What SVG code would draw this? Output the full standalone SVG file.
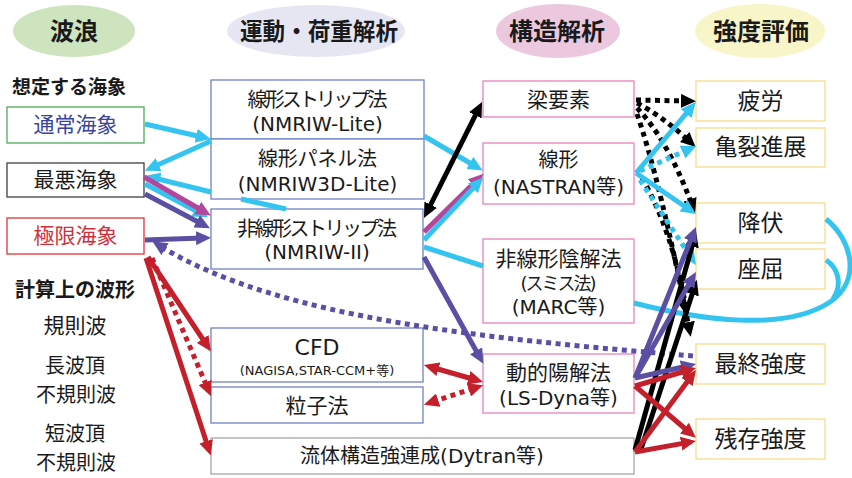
<svg xmlns="http://www.w3.org/2000/svg" width="852" height="478" viewBox="0 0 852 478">
<style>
text{font-family:"DejaVu Sans","Noto Sans CJK JP",sans-serif;fill:#1a1a1a;text-anchor:middle}
.hd{font-family:"Noto Sans CJK JP",sans-serif;font-size:24px;font-weight:bold}
.lb{font-family:"Noto Sans CJK JP",sans-serif;font-size:19px;font-weight:bold;text-anchor:start}
.lf{font-family:"Noto Sans CJK JP",sans-serif;font-size:21px}
.wv{font-family:"Noto Sans CJK JP",sans-serif;font-size:20px}
.c2{font-size:20px}
.c4{font-family:"Noto Sans CJK JP",sans-serif;font-size:23px}
.b2{fill:#fff;stroke:#6f82c8;stroke-width:1.3}
.b3{fill:#fff;stroke:#e883bd;stroke-width:1.3}
.b4{fill:#fff;stroke:#f6dc8c;stroke-width:1.3}
.cy{stroke:#35c4ef}
.pu{stroke:#5a4fa3}
.mg{stroke:#b3479c}
.rd{stroke:#c3202b}
.bk{stroke:#000}
#conn path{fill:none;stroke-width:5}
.dot{stroke-dasharray:5 4.5}
</style>
<defs>
<marker id="ac" viewBox="0 0 15 14" refX="6" refY="7" markerWidth="15" markerHeight="14" markerUnits="userSpaceOnUse" orient="auto-start-reverse"><path d="M0,0L15,7L0,14z" fill="#35c4ef"/></marker>
<marker id="ap" viewBox="0 0 15 14" refX="6" refY="7" markerWidth="15" markerHeight="14" markerUnits="userSpaceOnUse" orient="auto-start-reverse"><path d="M0,0L15,7L0,14z" fill="#5a4fa3"/></marker>
<marker id="am" viewBox="0 0 15 14" refX="6" refY="7" markerWidth="15" markerHeight="14" markerUnits="userSpaceOnUse" orient="auto-start-reverse"><path d="M0,0L15,7L0,14z" fill="#b3479c"/></marker>
<marker id="ar" viewBox="0 0 15 14" refX="6" refY="7" markerWidth="15" markerHeight="14" markerUnits="userSpaceOnUse" orient="auto-start-reverse"><path d="M0,0L15,7L0,14z" fill="#c3202b"/></marker>
<marker id="ak" viewBox="0 0 15 14" refX="6" refY="7" markerWidth="15" markerHeight="14" markerUnits="userSpaceOnUse" orient="auto-start-reverse"><path d="M0,0L15,7L0,14z" fill="#000"/></marker>
</defs>
<rect width="852" height="478" fill="#fff"/>

<g id="h-wave"><ellipse cx="74" cy="31" rx="61" ry="26" fill="#cde4bf"/><text class="hd" x="74" y="40">波浪</text></g>
<g id="h-motion"><ellipse cx="316" cy="31" rx="89" ry="26" fill="#e6e6f3"/><text class="hd" x="319" y="40" textLength="158" lengthAdjust="spacingAndGlyphs">運動・荷重解析</text></g>
<g id="h-struct"><ellipse cx="558" cy="31" rx="62" ry="27" fill="#ecc8df"/><text class="hd" x="557" y="40">構造解析</text></g>
<g id="h-strength"><ellipse cx="760" cy="31" rx="65" ry="27" fill="#f8f6c9"/><text class="hd" x="761" y="40">強度評価</text></g>

<g id="lbl-sea"><text class="lb" x="12" y="94">想定する海象</text></g>
<g id="sea-normal"><rect x="7" y="107" width="137" height="36" fill="#fff" stroke="#4cae55" stroke-width="1.3"/><text class="lf" x="75.5" y="132" style="fill:#3a44a0">通常海象</text></g>
<g id="sea-worst"><rect x="7" y="163" width="137" height="34" fill="#fff" stroke="#404040" stroke-width="1.3"/><text class="lf" x="75.5" y="187">最悪海象</text></g>
<g id="sea-extreme"><rect x="7" y="218" width="137" height="36" fill="#fff" stroke="#e0323a" stroke-width="1.3"/><text class="lf" x="75.5" y="243" style="fill:#d0303a">極限海象</text></g>
<g id="lbl-wave"><text class="lb" x="15" y="297" style="font-size:20px">計算上の波形</text></g>
<g id="wave-regular"><text class="lf" x="75" y="333">規則波</text></g>
<g id="wave-long"><text class="wv" x="75" y="372.5">長波頂</text><text class="wv" x="76" y="401.5">不規則波</text></g>
<g id="wave-short"><text class="wv" x="75" y="440.5">短波頂</text><text class="wv" x="76" y="469.5">不規則波</text></g>

<g id="m-lstrip"><rect class="b2" x="211" y="80" width="213" height="59"/><text class="c2" x="317.5" y="107" textLength="140">線形ストリップ法</text><text class="c2" x="317.5" y="131">(NMRIW-Lite)</text></g>
<g id="m-panel"><rect class="b2" x="211" y="139" width="213" height="60"/><text class="c2" x="317.5" y="166" textLength="119">線形パネル法</text><text class="c2" x="317.5" y="191">(NMRIW3D-Lite)</text></g>
<g id="m-nlstrip"><rect class="b2" x="211" y="209" width="212" height="60"/><text class="c2" x="317" y="236" textLength="160">非線形ストリップ法</text><text class="c2" x="317" y="259">(NMRIW-II)</text></g>
<g id="m-cfd"><rect class="b2" x="211" y="328" width="212" height="54"/><text x="317" y="355" style="font-size:22px">CFD</text><text x="317" y="375" style="font-size:13px">(NAGISA,STAR-CCM+等)</text></g>
<g id="m-particle"><rect class="b2" x="211" y="387" width="212" height="36"/><text class="c2" x="317" y="413" style="font-size:21px">粒子法</text></g>
<g id="m-fsi"><rect x="211" y="438" width="423" height="36" fill="#fff" stroke="#a6a6a6" stroke-width="1.3"/><text class="c2" x="422" y="463">流体構造強連成(Dytran等)</text></g>

<g id="s-beam"><rect class="b3" x="483" y="81" width="151" height="36"/><text class="c2" x="558.5" y="107" style="font-size:21px">梁要素</text></g>
<g id="s-linear"><rect class="b3" x="483" y="143" width="151" height="61"/><text class="c2" x="558.5" y="167">線形</text><text class="c2" x="558.5" y="194">(NASTRAN等)</text></g>
<g id="s-implicit"><rect class="b3" x="483" y="239" width="151" height="84"/><text class="c2" x="558.5" y="266" style="font-size:21px">非線形陰解法</text><text class="c2" x="558.5" y="290" style="font-size:18px" textLength="76">(スミス法)</text><text class="c2" x="558.5" y="314">(MARC等)</text></g>
<g id="s-explicit"><rect class="b3" x="483" y="354" width="151" height="59"/><text class="c2" x="558.5" y="380" style="font-size:21px">動的陽解法</text><text class="c2" x="558.5" y="405">(LS-Dyna等)</text></g>

<g id="e-fatigue"><rect class="b4" x="696" y="81" width="129" height="40"/><text class="c4" x="760.5" y="109">疲労</text></g>
<g id="e-crack"><rect class="b4" x="696" y="128" width="129" height="39"/><text class="c4" x="760.5" y="155">亀裂進展</text></g>
<g id="e-yield"><rect class="b4" x="696" y="203" width="129" height="40"/><text class="c4" x="760.5" y="231">降伏</text></g>
<g id="e-buckling"><rect class="b4" x="696" y="249" width="129" height="40"/><text class="c4" x="760.5" y="277">座屈</text></g>
<g id="e-ultimate"><rect class="b4" x="696" y="344" width="129" height="40"/><text class="c4" x="760.5" y="372">最終強度</text></g>
<g id="e-residual"><rect class="b4" x="696" y="419" width="129" height="40"/><text class="c4" x="760.5" y="447">残存強度</text></g>

<g id="conn">
<path class="cy" d="M145,124L202,137" marker-end="url(#ac)"/>
<path class="cy" d="M211,141L153,167" marker-end="url(#ac)"/>
<path class="cy" d="M286,209L241,199M211,192L154,178" marker-end="url(#ac)"/>
<path class="cy" d="M145,184L200,213" marker-end="url(#ac)"/>
<path class="mg" d="M144,177L203,211" stroke-width="4" marker-end="url(#am)"/>
<path class="pu" d="M145,194L202,224" marker-end="url(#ap)"/>
<path class="pu" d="M145,240L202,238" marker-end="url(#ap)"/>
<path class="pu dot" d="M693,356C500,340 280,320 160,246" stroke-width="4.5" marker-end="url(#ap)"/>
<path class="rd" d="M148,257L206,344" marker-end="url(#ar)"/>
<path class="rd dot" d="M152,258L207.5,388" marker-end="url(#ar)"/>
<path class="rd" d="M146,258L208,447" marker-end="url(#ar)"/>

<path class="cy" d="M424,136L475,166" marker-end="url(#ac)"/>
<path class="mg" d="M424,232L477,180" stroke-width="4" marker-end="url(#am)"/>
<path class="cy" d="M424,240L477,184" marker-end="url(#ac)"/>
<path class="bk" d="M428,210L478,110" marker-start="url(#ak)" marker-end="url(#ak)"/>
<path class="cy" d="M424,247L483,266M634,303C700,320 785,332 830,302C862,280 852,240 826,219"/>
<path class="cy" d="M826,260C838,268 843,284 833,299"/>
<path class="pu" d="M424,257L479,356" marker-end="url(#ap)"/>
<path class="rd" d="M432.6,367.5L474.4,379.5" marker-start="url(#ar)" marker-end="url(#ar)"/>
<path class="rd dot" d="M432.5,402L474.5,388" marker-start="url(#ar)" marker-end="url(#ar)"/>

<path class="bk dot" d="M636,100L687,101" marker-end="url(#ak)"/>
<path class="bk dot" d="M637,103Q662,116 689,141" marker-end="url(#ak)"/>
<path class="bk dot" d="M637,108Q668,140 692,205" marker-end="url(#ak)"/>
<path class="bk dot" d="M637,114Q660,180 689,328" marker-end="url(#ak)"/>
<path class="bk dot" d="M642,178Q672,230 686,308" marker-end="url(#ak)"/>
<path class="cy" d="M636,173L690,109" marker-end="url(#ac)"/>
<path class="cy" d="M636,173L688.5,209" marker-end="url(#ac)"/>
<path class="cy dot" d="M640,171L688,149.6" marker-end="url(#ac)"/>
<path class="cy dot" d="M640,180L691,257.5" marker-end="url(#ac)"/>

<path class="bk" d="M635,450L693.6,240.7" marker-end="url(#ak)"/>
<path class="bk" d="M640,452L694,288.5" marker-end="url(#ak)"/>
<path class="pu" d="M635,378L692.6,235.3" marker-end="url(#ap)"/>
<path class="pu" d="M635,378L691.5,279.8" marker-end="url(#ap)"/>
<path class="pu" d="M635,378L687.2,366" marker-end="url(#ap)"/>
<path class="rd" d="M635,386L687.4,370.5" marker-end="url(#ar)"/>
<path class="rd" d="M635,386L689,432" marker-end="url(#ar)"/>
<path class="rd" d="M635,452L690.6,377.2" marker-end="url(#ar)"/>
<path class="rd" d="M635,452L687,442.6" marker-end="url(#ar)"/>
</g>
</svg>
